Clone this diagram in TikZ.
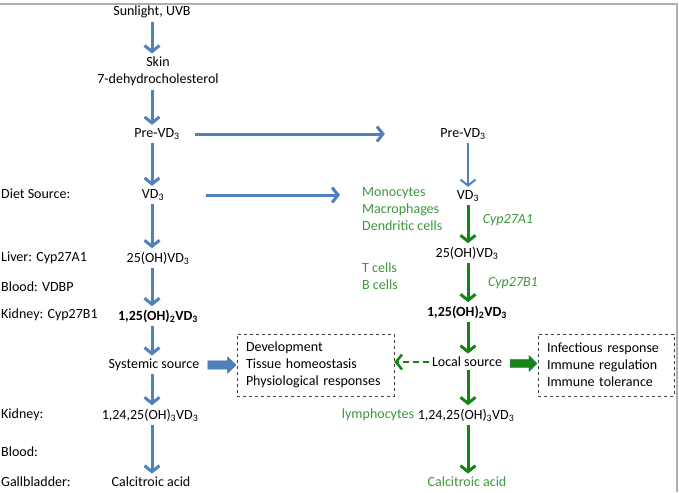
\documentclass[tikz,border=0pt]{standalone}
\usepackage{fontspec}
\setmainfont{Carlito}
\usepackage{tikz}
\usetikzlibrary{arrows.meta,shapes.arrows}

\definecolor{vdblue}{RGB}{79,129,189}
\definecolor{vdgreen}{RGB}{20,132,20}
\definecolor{vdtext}{RGB}{60,150,60}
\definecolor{framegray}{RGB}{175,175,175}

\tikzset{
  blarr/.style={vdblue, line width=3pt, -{Straight Barb[length=6pt,width=15pt]}},
  grarr/.style={vdgreen, line width=3pt, -{Straight Barb[length=6pt,width=15pt]}},
  grdash/.style={vdgreen, line width=2.5pt, dash pattern=on 6pt off 4pt, -{Straight Barb[length=6pt,width=15pt]}},
  side/.style={anchor=west, inner sep=0pt},
  cell/.style={vdtext, align=left, anchor=west, inner sep=0pt},
  enz/.style={vdtext, font=\fontsize{14}{17}\selectfont\itshape},
  effbox/.style={draw=black!75, dashed, line width=0.8pt, align=left, minimum height=62pt, text width=#1, inner xsep=9pt},
  blockarr/.style={single arrow, single arrow head extend=4pt, minimum width=16pt, minimum height=28pt, inner xsep=0pt, inner ysep=4pt}
}

\begin{document}
\begin{tikzpicture}[x=1pt, y=-1pt, font=\fontsize{14}{17}\selectfont]
    \useasboundingbox (0,0) rectangle (679,492);
    % frame
    \draw[framegray, line width=1.5pt] (0,4) -- (677,4) -- (677,492);

    \coordinate (colL) at (152,0);
    \coordinate (colR) at (468,0);

    % systemic pathway
    \node (sun) at (152,12) {Sunlight, UVB};
    \node[align=center] (skin) at (158,71.5) {Skin\\7-dehydrocholesterol};
    \node (preL) at (157,134) {Pre-VD\textsubscript{3}};
    \node (vdL) at (153,195) {VD\textsubscript{3}};
    \node (ohL) at (158,258) {25(OH)VD\textsubscript{3}};
    \node[font=\fontsize{14}{17}\selectfont\bfseries] (dihL) at (158,316) {1,25(OH)\textsubscript{2}VD\textsubscript{3}};
    \node (sys) at (154,365) {Systemic source};
    \node (triL) at (150,415) {1,24,25(OH)\textsubscript{3}VD\textsubscript{3}};
    \node (calL) at (151,482) {Calcitroic acid};

    % organ labels
    \node[side] (diet) at (1,194) {Diet Source:};
    \node[side] (liver) at (1,258) {Liver: Cyp27A1};
    \node[side] (blood) at (1,287) {Blood: VDBP};
    \node[side] (kidney) at (1,315) {Kidney: Cyp27B1};
    \node[side] (kidney2) at (1,415) {Kidney:};
    \node[side] (blood2) at (1,452) {Blood:};
    \node[side] (gall) at (1,482) {Gallbladder:};

    % local pathway
    \node (preR) at (463,134) {Pre-VD\textsubscript{3}};
    \node (vdR) at (468,196) {VD\textsubscript{3}};
    \node (ohR) at (467,253) {25(OH)VD\textsubscript{3}};
    \node[font=\fontsize{14}{17}\selectfont\bfseries] (dihR) at (467,312) {1,25(OH)\textsubscript{2}VD\textsubscript{3}};
    \node (loc) at (467,362) {Local source};
    \node (triR) at (466,415) {1,24,25(OH)\textsubscript{3}VD\textsubscript{3}};
    \node[vdtext] (calR) at (467,482) {Calcitroic acid};

    % cells and enzymes
    \node[cell] (mono) at (362,209) {Monocytes\\Macrophages\\Dendritic cells};
    \node[cell] (tb) at (362,276) {T cells\\B cells};
    \node[enz] (cypA) at (508,220) {Cyp27A1};
    \node[enz] (cypB) at (513,283) {Cyp27B1};
    \node[vdtext] (lymph) at (378,415) {lymphocytes};

    % effects
    \node[effbox=139pt] (devbox) at (315.5,365) {Development\\Tissue homeostasis\\Physiological responses};
    \node[effbox=118pt] (immbox) at (606,365) {Infectious response\\Immune regulation\\Immune tolerance};

    % arrows, left column
    \draw[blarr] (colL |- sun.south) -- (colL |- skin.north);
    \draw[blarr] (colL |- skin.south) -- (colL |- preL.north);
    \draw[blarr] (colL |- preL.south) -- (colL |- vdL.north);
    \draw[blarr] (colL |- vdL.south) -- (colL |- ohL.north);
    \draw[blarr] (colL |- ohL.south) -- (colL |- dihL.north);
    \draw[blarr] (colL |- dihL.south) -- (colL |- sys.north);
    \draw[blarr] (colL |- sys.south) -- (colL |- triL.north);
    \draw[blarr] (colL |- triL.south) -- (colL |- calL.north);

    % cross arrows
    \draw[blarr, shorten <=12pt, shorten >=52pt] (preL.east) -- (preL.east -| preR.west);
    \draw[blarr, shorten <=38pt, shorten >=22pt] (vdL.east) -- (vdL.east -| mono.west);

    % arrows, right column
    \draw[blarr, line width=2pt] (colR |- preR.south) -- (colR |- vdR.north);
    \draw[grarr] (colR |- vdR.south) -- (colR |- ohR.north);
    \draw[grarr] (colR |- ohR.south) -- (colR |- dihR.north);
    \draw[grarr] (colR |- dihR.south) -- (colR |- loc.north);
    \draw[grarr] (colR |- loc.south) -- (colR |- triR.north);
    \draw[grarr] (colR |- triR.south) -- (colR |- calR.north);
    \draw[grdash] (loc.west) -- (loc.west -| devbox.east);

    % block arrows to the effects
    \path (sys.east) -- (devbox.west) node[midway, blockarr, fill=vdblue, draw=vdblue!80!black] (sysarr) {};
    \path (loc.east) -- (immbox.west) node[midway, blockarr, fill=vdgreen, draw=vdblue!70!vdgreen, minimum height=27pt] (locarr) {};
\end{tikzpicture}
\end{document}
